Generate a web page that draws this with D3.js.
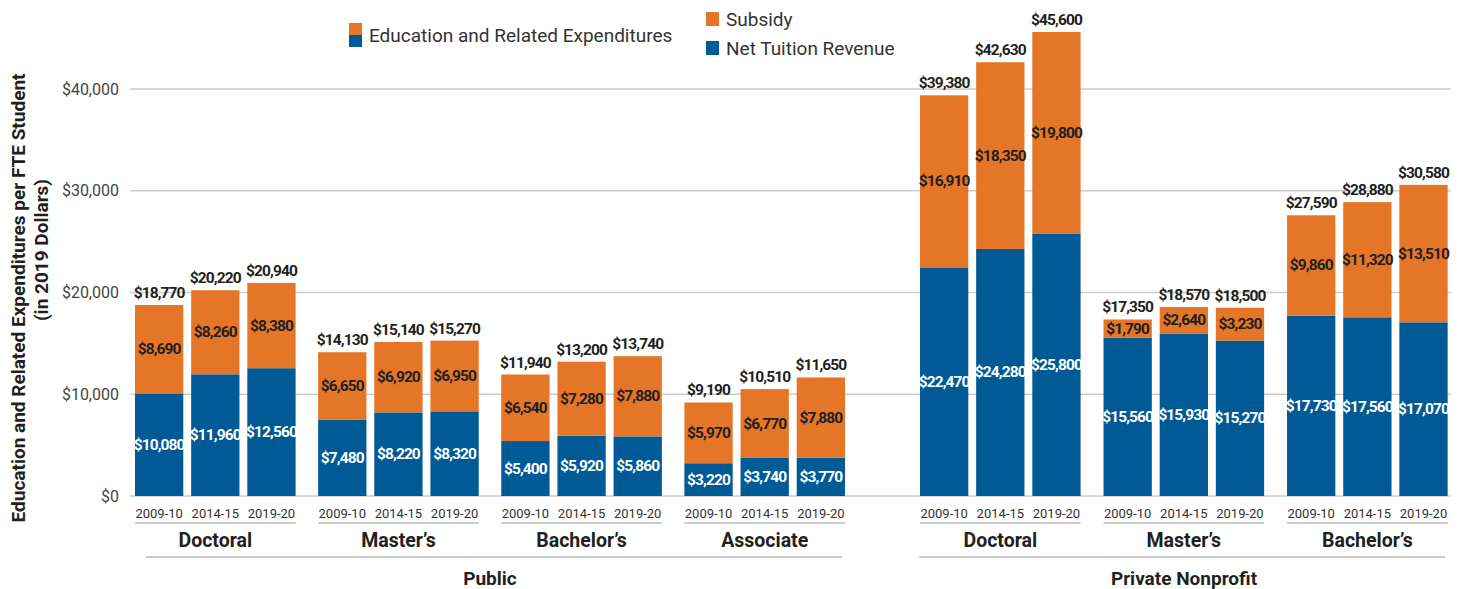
<!DOCTYPE html>
<html>
<head>
<meta charset="utf-8">
<script src="https://cdn.jsdelivr.net/npm/d3@7"></script>
<style>
  html, body { margin: 0; padding: 0; background: #fff; }
  svg { display: block; font-family: Roboto, "Liberation Sans", sans-serif; }
</style>
</head>
<body>
<svg id="chart" width="1460" height="589"></svg>
<script>
// ---------- data ----------
const sectors = ["Public", "Private Nonprofit"];
const groupNames = ["Doctoral", "Master’s", "Bachelor’s", "Associate", "Doctoral", "Master’s", "Bachelor’s"];
const groupSectors = ["Public", "Public", "Public", "Public", "Private Nonprofit", "Private Nonprofit", "Private Nonprofit"];
const years = ["2009-10", "2014-15", "2019-20"];
const netTuition = [
  [10080, 11960, 12560],
  [7480, 8220, 8320],
  [5400, 5920, 5860],
  [3220, 3740, 3770],
  [22470, 24280, 25800],
  [15560, 15930, 15270],
  [17730, 17560, 17070]
];
const subsidy = [
  [8690, 8260, 8380],
  [6650, 6920, 6950],
  [6540, 7280, 7880],
  [5970, 6770, 7880],
  [16910, 18350, 19800],
  [1790, 2640, 3230],
  [9860, 11320, 13510]
];
const totals = [
  [18770, 20220, 20940],
  [14130, 15140, 15270],
  [11940, 13200, 13740],
  [9190, 10510, 11650],
  [39380, 42630, 45600],
  [17350, 18570, 18500],
  [27590, 28880, 30580]
];
const yTicks = [0, 10000, 20000, 30000, 40000];
const seriesNames = ["Subsidy", "Net Tuition Revenue"];
const legendTotalName = "Education and Related Expenditures";
const yTitle1 = "Education and Related Expenditures per FTE Student";
const yTitle2 = "(in 2019 Dollars)";

// ---------- style ----------
const ORANGE = "#E57627";
const BLUE = "#005A95";
const DARK = "#231F20";
const GRID = "#CCCCCC";

const svg = d3.select("#chart");

// ---------- scales ----------
const y = d3.scaleLinear().domain([0, 40000]).range([496, 89]);
const sectorRanges = { "Public": [135, 845], "Private Nonprofit": [920, 1448] };
const groupScales = {};
sectors.forEach(s => {
  const idx = groupSectors.map((g, i) => g === s ? i : -1).filter(i => i >= 0);
  groupScales[s] = d3.scaleBand().domain(idx).range(sectorRanges[s]).paddingInner(0.123).paddingOuter(0);
});
const groupX = i => groupScales[groupSectors[i]](i);
const groupW = groupScales["Public"].bandwidth();
const yearScale = d3.scaleBand().domain(years).range([0, groupW]).paddingInner(0.14).paddingOuter(0);

// ---------- gridlines & y axis ----------
const yAxis = d3.axisLeft(y).tickValues(yTicks).tickSize(0).tickPadding(0)
  .tickFormat(d => "$" + d3.format(",")(d));
const gy = svg.append("g").attr("transform", "translate(119,0)").call(yAxis);
gy.select(".domain").remove();
gy.selectAll("text").attr("font-size", 16).attr("fill", "#444").attr("font-family", "Roboto");

svg.append("g").selectAll("line").data(yTicks).join("line")
  .attr("x1", 130).attr("x2", 1451)
  .attr("y1", d => y(d)).attr("y2", d => y(d))
  .attr("stroke", GRID).attr("stroke-width", 1.6);

// ---------- bars ----------
const bars = [];
groupNames.forEach((g, gi) => {
  years.forEach((yr, yi) => {
    bars.push({ gi, yr, net: netTuition[gi][yi], sub: subsidy[gi][yi], tot: totals[gi][yi] });
  });
});
const bx = d => groupX(d.gi) + yearScale(d.yr);
const bw = yearScale.bandwidth();
const money = v => "$" + d3.format(",")(v);

const gb = svg.append("g");
gb.selectAll("rect.net").data(bars).join("rect").attr("class", "net")
  .attr("x", bx).attr("width", bw)
  .attr("y", d => y(d.net)).attr("height", d => y(0) - y(d.net))
  .attr("fill", BLUE);
gb.selectAll("rect.sub").data(bars).join("rect").attr("class", "sub")
  .attr("x", bx).attr("width", bw)
  .attr("y", d => y(d.net + d.sub)).attr("height", d => y(d.net) - y(d.net + d.sub))
  .attr("fill", ORANGE);

const labStyle = sel => sel.attr("font-size", 15.5).attr("font-weight", 700)
  .attr("letter-spacing", -0.9).attr("text-anchor", "middle").attr("dominant-baseline", "central");

gb.selectAll("text.netl").data(bars).join("text").attr("class", "netl")
  .attr("x", d => bx(d) + bw / 2).attr("y", d => (y(0) + y(d.net)) / 2)
  .attr("fill", "#fff").text(d => money(d.net)).call(labStyle);
gb.selectAll("text.subl").data(bars).join("text").attr("class", "subl")
  .attr("x", d => bx(d) + bw / 2).attr("y", d => (y(d.net) + y(d.net + d.sub)) / 2)
  .attr("fill", DARK).text(d => money(d.sub)).call(labStyle);
gb.selectAll("text.totl").data(bars).join("text").attr("class", "totl")
  .attr("x", d => bx(d) + bw / 2).attr("y", d => y(d.net + d.sub) - 12)
  .attr("fill", DARK).text(d => money(d.tot)).call(labStyle);

// ---------- x axis labels ----------
const gx = svg.append("g");
gx.selectAll("text.yr").data(bars).join("text").attr("class", "yr")
  .attr("x", d => bx(d) + bw / 2).attr("y", 513)
  .attr("text-anchor", "middle").attr("dominant-baseline", "central")
  .attr("font-size", 13).attr("fill", "#333").text(d => d.yr);

gx.selectAll("line.gl").data(groupNames.map((g, i) => i)).join("line").attr("class", "gl")
  .attr("x1", i => groupX(i)).attr("x2", i => groupX(i) + groupW)
  .attr("y1", 523).attr("y2", 523).attr("stroke", "#999").attr("stroke-width", 1.2);
gx.selectAll("text.gn").data(groupNames.map((g, i) => i)).join("text").attr("class", "gn")
  .attr("x", i => groupX(i) + groupW / 2).attr("y", 540)
  .attr("text-anchor", "middle").attr("dominant-baseline", "central")
  .attr("font-size", 19.5).attr("font-weight", 700).attr("fill", DARK).text(i => groupNames[i]);

gx.selectAll("line.sl").data(sectors).join("line").attr("class", "sl")
  .attr("x1", s => sectorRanges[s][0] + (s === "Public" ? 11 : -1))
  .attr("x2", s => sectorRanges[s][1] - 3)
  .attr("y1", 557).attr("y2", 557).attr("stroke", "#999").attr("stroke-width", 1.2);
gx.selectAll("text.sn").data(sectors).join("text").attr("class", "sn")
  .attr("x", s => (sectorRanges[s][0] + sectorRanges[s][1]) / 2).attr("y", 578)
  .attr("text-anchor", "middle").attr("dominant-baseline", "central")
  .attr("font-size", 19).attr("font-weight", 700).attr("fill", DARK).text(s => s);

// ---------- y title ----------
svg.append("text").attr("transform", "translate(18,298) rotate(-90)")
  .attr("text-anchor", "middle").attr("dominant-baseline", "central")
  .attr("font-size", 19).attr("font-weight", 700).attr("fill", DARK).text(yTitle1);
svg.append("text").attr("transform", "translate(41,250) rotate(-90)")
  .attr("text-anchor", "middle").attr("dominant-baseline", "central")
  .attr("font-size", 19).attr("font-weight", 700).attr("fill", DARK).text(yTitle2);

// ---------- legend ----------
const lg = svg.append("g");
lg.append("rect").attr("x", 349).attr("y", 23).attr("width", 13).attr("height", 12).attr("fill", ORANGE);
lg.append("rect").attr("x", 349).attr("y", 35).attr("width", 13).attr("height", 12).attr("fill", BLUE);
lg.append("text").attr("x", 369).attr("y", 35).attr("dominant-baseline", "central")
  .attr("font-size", 19).attr("fill", "#333").text(legendTotalName);
const legendColors = [ORANGE, BLUE];
const legendY = [19, 48];
lg.selectAll("rect.li").data(seriesNames).join("rect").attr("class", "li")
  .attr("x", 706).attr("y", (d, i) => legendY[i] - 7).attr("width", 13).attr("height", 14)
  .attr("fill", (d, i) => legendColors[i]);
lg.selectAll("text.lt").data(seriesNames).join("text").attr("class", "lt")
  .attr("x", 726).attr("y", (d, i) => legendY[i]).attr("dominant-baseline", "central")
  .attr("font-size", 19).attr("fill", "#333").text(d => d);
</script>
</body>
</html>
